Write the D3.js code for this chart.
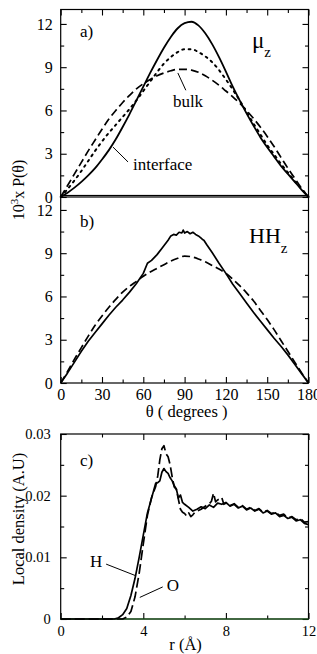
<!DOCTYPE html>
<html><head><meta charset="utf-8">
<script src="https://cdn.jsdelivr.net/npm/d3@7"></script>
<style>
body{margin:0;background:#fff}
svg{display:block}
</style>
</head><body>
<svg id="c" width="317" height="654"></svg>
<script>
// ---------- DATA ----------
// Panel a) mu_z : angle grid (degrees)
const thetaGrid = [0,5,10,15,20,25,30,35,40,45,50,55,60,65,70,75,80,85,90,95,100,105,110,115,120,125,130,135,140,145,150,155,160,165,170,175,180];
const muInterface = [0,0.3,0.65,1.05,1.5,2.0,2.6,3.25,4.0,4.85,5.75,6.7,7.65,8.6,9.5,10.35,11.1,11.7,12.05,12.15,11.9,11.35,10.6,9.7,8.7,7.65,6.7,5.8,4.95,4.15,3.45,2.8,2.15,1.6,1.05,0.5,0];
const muMiddle    = [0,0.55,1.15,1.8,2.5,3.2,3.85,4.45,5.0,5.55,6.1,6.7,7.35,8.0,8.65,9.25,9.7,10.05,10.25,10.25,10.05,9.75,9.35,8.8,8.15,7.45,6.7,5.9,5.1,4.35,3.6,2.95,2.3,1.7,1.1,0.55,0];
const muBulk      = [0,0.8,1.6,2.4,3.2,3.95,4.7,5.4,6.0,6.55,7.05,7.5,7.85,8.15,8.4,8.6,8.75,8.85,8.85,8.8,8.65,8.4,8.1,7.75,7.35,6.95,6.5,6.0,5.45,4.85,4.2,3.5,2.75,2.0,1.3,0.6,0];
// Panel b) HH_z
const thetaHH = [0,5,10,15,20,25,30,35,40,45,50,55,60,63,66,70,74,78,80,82,84,86,88,89,90,92,94,96,98,100,102,103,104,106,110,115,120,125,130,135,140,145,150,155,160,165,170,175,180];
const hhInterface = [0,0.7,1.45,2.2,2.9,3.5,4.1,4.7,5.25,5.75,6.3,6.9,7.6,8.3,8.5,8.9,9.4,9.9,10.2,10.3,10.25,10.45,10.4,10.6,10.4,10.5,10.35,10.45,10.3,10.2,10.05,9.95,9.9,9.6,9.05,8.3,7.6,6.85,6.2,5.55,4.9,4.3,3.7,3.1,2.55,1.95,1.3,0.65,0];
const hhBulk = [0,0.8,1.65,2.45,3.25,4.0,4.65,5.25,5.8,6.3,6.7,7.05,7.4,7.7,7.95,8.2,8.45,8.65,8.8,8.75,8.6,8.4,8.15,7.9,7.6,7.2,6.75,6.25,5.7,5.05,4.4,3.7,2.95,2.2,1.45,0.7,0];
// Panel c) local density
const rH = [0,2.6,2.8,3.0,3.2,3.4,3.6,3.8,4.0,4.2,4.4,4.5,4.6,4.7,4.8,4.9,5.0,5.1,5.2,5.3,5.4,5.5,5.6,5.7,5.8,5.9,6.0,6.2,6.4,6.6,6.8,7.0,7.2,7.4,7.6,7.8,8.0,8.2,8.4,8.6,8.8,9.0,9.2,9.4,9.6,9.8,10.0,10.2,10.4,10.6,10.8,11.0,11.2,11.4,11.6,11.8,12.0];
const densH = [0,0,0.0002,0.0007,0.0017,0.0038,0.0066,0.0100,0.0136,0.0172,0.0196,0.0208,0.0220,0.0221,0.0224,0.0238,0.0244,0.0239,0.0236,0.0229,0.0224,0.0216,0.0211,0.0196,0.0201,0.0189,0.0186,0.0181,0.0175,0.0178,0.0182,0.0179,0.0185,0.0181,0.0188,0.0186,0.0189,0.0183,0.0186,0.0180,0.0183,0.0177,0.0180,0.0175,0.0178,0.0172,0.0175,0.0170,0.0172,0.0166,0.0168,0.0163,0.0165,0.0159,0.0161,0.0155,0.0153];
const rO = [0,3.0,3.2,3.4,3.6,3.8,4.0,4.2,4.4,4.6,4.7,4.8,4.9,5.0,5.1,5.2,5.3,5.4,5.5,5.6,5.7,5.8,5.9,6.0,6.1,6.2,6.3,6.4,6.5,6.6,6.8,7.0,7.2,7.3,7.4,7.5,7.6,7.8,7.9,8.0,8.2,8.4,8.6,8.8,9.0,9.2,9.4,9.6,9.8,10.0,10.2,10.4,10.6,10.8,11.0,11.2,11.4,11.6,11.8,12.0];
const densO = [0,0,0.0003,0.0012,0.0036,0.0074,0.0122,0.0168,0.0197,0.0215,0.0232,0.0258,0.0276,0.0281,0.0268,0.0263,0.0250,0.0230,0.0214,0.0210,0.0194,0.0178,0.0173,0.0171,0.0167,0.0172,0.0166,0.0169,0.0173,0.0175,0.0178,0.0183,0.0187,0.0191,0.0204,0.0190,0.0193,0.0197,0.0186,0.0188,0.0184,0.0187,0.0181,0.0184,0.0178,0.0181,0.0176,0.0179,0.0173,0.0176,0.0171,0.0173,0.0168,0.0170,0.0164,0.0166,0.0161,0.0163,0.0157,0.0158];
// ticks
const thetaMajor = [0,30,60,90,120,150,180];
const thetaMinor = [15,45,75,105,135,165];
const pMajor = [0,3,6,9,12];
const pMinor = [1.5,4.5,7.5,10.5];
const rMajor = [0,4,8,12];
const rMinor = [2,6,10];
const dMajor = [0,0.01,0.02,0.03];
const dMinor = [0.005,0.015,0.025];
const dLabels = ["0","0.01","0.02","0.03"];

// ---------- SCALES ----------
const FONT = '"Liberation Serif", "Times New Roman", Times, "DejaVu Serif", serif';
const svg = d3.select('#c').style('font-family', FONT);
const X0 = 60.7, X1 = 308.5;
const xT = d3.scaleLinear().domain([0,180]).range([X0,X1]);
const yA = d3.scaleLinear().domain([0,13]).range([197,9.5]);
const yB = d3.scaleLinear().domain([0,13]).range([383,195.5]);
const xR = d3.scaleLinear().domain([0,12]).range([X0,X1]);
const yC = d3.scaleLinear().domain([0,0.03]).range([619,434]);

const MAJ = 6, MIN = 3.5;
function styleAxis(g, fs){
  g.attr('font-family', null).attr('font-size', null).style('font-family', FONT);
  g.select('.domain').remove();
  g.selectAll('line').attr('stroke','#000').attr('stroke-width',1.1);
  g.selectAll('text').style('font-size',fs+'px').style('font-family', FONT).attr('fill','#000');
}
function axes(xs, ys, opts){
  const [yb, yt] = ys.range();
  const fs = opts.fs;
  let g = svg.append('g').attr('transform',`translate(${X0},0)`)
    .call(d3.axisLeft(ys).tickValues(opts.yMaj).tickSize(-MAJ).tickPadding(opts.yPad).tickFormat((d,i)=>opts.yFmt(d,i)));
  styleAxis(g, fs);
  g = svg.append('g').attr('transform',`translate(${X0},0)`)
    .call(d3.axisLeft(ys).tickValues(opts.yMin).tickSize(-MIN).tickFormat(''));
  styleAxis(g, fs);
  g = svg.append('g').attr('transform',`translate(${X1},0)`)
    .call(d3.axisRight(ys).tickValues(opts.yMaj).tickSize(-MAJ).tickFormat(''));
  styleAxis(g, fs);
  g = svg.append('g').attr('transform',`translate(${X1},0)`)
    .call(d3.axisRight(ys).tickValues(opts.yMin).tickSize(-MIN).tickFormat(''));
  styleAxis(g, fs);
  if (opts.top){
    g = svg.append('g').attr('transform',`translate(0,${yt})`)
      .call(d3.axisTop(xs).tickValues(opts.xMaj).tickSize(-MAJ).tickFormat(''));
    styleAxis(g, fs);
    g = svg.append('g').attr('transform',`translate(0,${yt})`)
      .call(d3.axisTop(xs).tickValues(opts.xMin).tickSize(-MIN).tickFormat(''));
    styleAxis(g, fs);
  }
  if (opts.bottom){
    g = svg.append('g').attr('transform',`translate(0,${yb})`)
      .call(d3.axisBottom(xs).tickValues(opts.xMaj).tickSize(-MAJ).tickPadding(opts.xPad).tickFormat(d3.format('d')));
    styleAxis(g, fs);
    g = svg.append('g').attr('transform',`translate(0,${yb})`)
      .call(d3.axisBottom(xs).tickValues(opts.xMin).tickSize(-MIN).tickFormat(''));
    styleAxis(g, fs);
  }
  svg.append('rect').attr('x',X0).attr('y',yt).attr('width',X1-X0).attr('height',yb-yt)
    .attr('fill','none').attr('stroke','#000').attr('stroke-width',1.2);
}

axes(xT, yA, {fs:16, yMaj:pMajor, yMin:pMinor, yPad:8, yFmt:d=>d, xMaj:thetaMajor, xMin:thetaMinor, top:true, bottom:false});
axes(xT, yB, {fs:16, yMaj:pMajor, yMin:pMinor, yPad:8, yFmt:d=>d, xMaj:thetaMajor, xMin:thetaMinor, top:false, bottom:true, xPad:6});
axes(xR, yC, {fs:14.5, yMaj:dMajor, yMin:dMinor, yPad:10, yFmt:(d,i)=>dLabels[i], xMaj:rMajor, xMin:rMinor, top:true, bottom:true, xPad:7});

function drawLine(xs, ys, xv, yv, dash, w, curve){
  const pts = xv.map((x,i)=>[x,yv[i]]);
  const line = d3.line().x(d=>xs(d[0])).y(d=>ys(d[1])).curve(curve||d3.curveLinear);
  const p = svg.append('path').datum(pts).attr('d',line).attr('fill','none')
    .attr('stroke','#000').attr('stroke-width',w).attr('stroke-linejoin','round');
  if (dash) p.attr('stroke-dasharray',dash);
  return p;
}
drawLine(xT,yA,thetaGrid,muBulk,'8,4',1.7,d3.curveMonotoneX);
drawLine(xT,yA,thetaGrid,muMiddle,'1.8,4.6',2.0,d3.curveMonotoneX).attr('stroke-linecap','round');
drawLine(xT,yA,thetaGrid,muInterface,null,1.8,d3.curveMonotoneX);
drawLine(xT,yB,thetaGrid,hhBulk,'8,4',1.7,d3.curveMonotoneX);
drawLine(xT,yB,thetaHH,hhInterface,null,1.7);
svg.append('line').attr('x1',xR(0)).attr('x2',xR(12)).attr('y1',yC(0)).attr('y2',yC(0))
  .attr('stroke','#1f6b1f').attr('stroke-width',1.2);
drawLine(xR,yC,rO,densO,'10,4',1.7);
drawLine(xR,yC,rH,densH,null,1.7);

function txt(x,y,s,fs,anchor){
  return svg.append('text').attr('x',x).attr('y',y).attr('text-anchor',anchor||'start')
    .style('font-family',FONT).style('font-size',fs+'px').attr('fill','#000').text(s);
}
function seg(xs,ys,a,b){
  svg.append('line').attr('x1',xs(a[0])).attr('y1',ys(a[1])).attr('x2',xs(b[0])).attr('y2',ys(b[1]))
    .attr('stroke','#000').attr('stroke-width',1);
}
txt(80,37,'a)',17);
txt(80,227,'b)',17);
txt(80,466,'c)',17);
let t = svg.append('text').attr('x',252).attr('y',48).style('font-family',FONT).style('font-size','23px');
t.append('tspan').text('μ');
t.append('tspan').attr('dy',9).style('font-size','15px').text('z');
t = svg.append('text').attr('x',249).attr('y',243).style('font-family',FONT).style('font-size','22px');
t.append('tspan').text('HH');
t.append('tspan').attr('dy',10).style('font-size','15px').text('z');
txt(xT(81.5), yA(6.24), 'bulk', 17);
seg(xT,yA,[85.1,8.6],[90.9,7.4]);
txt(xT(52.5), yA(1.87), 'interface', 17);
seg(xT,yA,[38,3.46],[48.9,2.43]);
txt(xR(1.42), yC(0.0084), 'H', 17);
seg(xR,yC,[2.2,0.0089],[3.65,0.0070]);
txt(xR(5.13), yC(0.0045), 'O', 17);
seg(xR,yC,[3.83,0.0035],[4.94,0.0052]);

txt((X0+X1)/2+2, 417, 'θ ( degrees )', 16.5, 'middle');
txt(xR(6)+1, 650, 'r (Å)', 16.5, 'middle');
t = svg.append('text').attr('transform','translate(24,190) rotate(-90)').attr('text-anchor','middle')
  .style('font-family',FONT).style('font-size','16px');
t.append('tspan').text('10');
t.append('tspan').attr('dy',-6).style('font-size','11px').text('3');
t.append('tspan').attr('dy',6).text('x P(θ)');
svg.append('text').attr('transform','translate(24,519) rotate(-90)').attr('text-anchor','middle')
  .style('font-family',FONT).style('font-size','16.5px').text('Local density (A.U)');
</script>
</body></html>
